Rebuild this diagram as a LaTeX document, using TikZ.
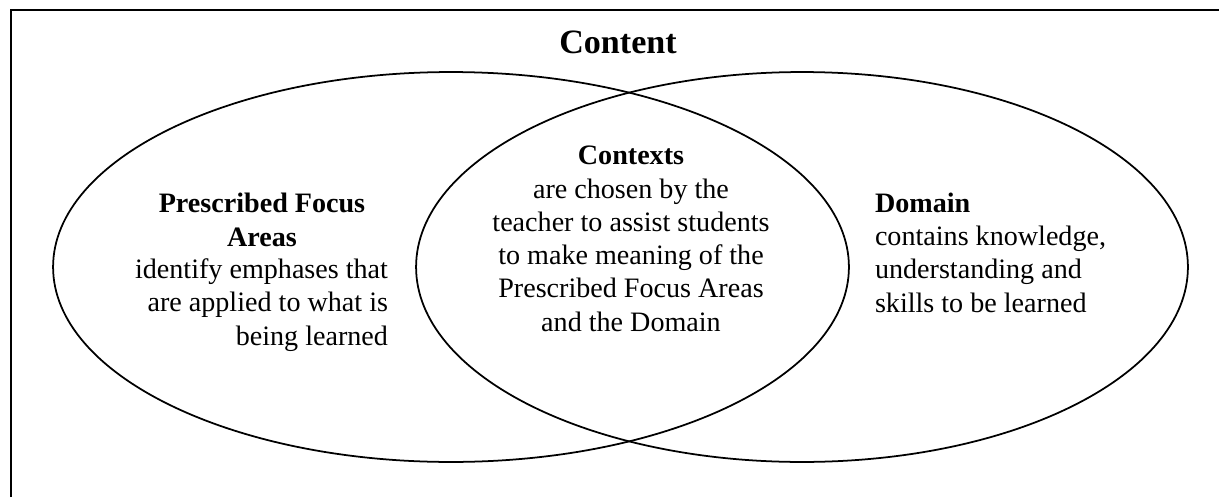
\documentclass[tikz,border=0pt]{standalone}
\usepackage{fontspec}
\setmainfont{Liberation Serif}
\usepackage{tikz}
\usetikzlibrary{positioning}

\begin{document}
\begin{tikzpicture}[x=0.02cm,y=-0.02cm,semithick,
                    every node/.style={inner sep=0pt,outer sep=0pt}]
  \tikzstyle{blurb}=[font=\fontsize{16}{18.9}\selectfont]
  \tikzstyle{ring}=[line width=1pt,draw=black]

  \useasboundingbox (0,0) rectangle (1219,497);
  \draw[line width=1.3pt] (11,497) -- (11,10) -- (1219,10);

  \draw[ring] (451,267) ellipse [x radius=7.96cm, y radius=3.9cm];
  \draw[ring] (802,267) ellipse [x radius=7.72cm, y radius=3.9cm];

  % multi-line nodes sit on the baseline of their last line
  \node[anchor=base,font=\fontsize{19.4}{22}\selectfont\bfseries] (content) at (618,53) {Content};

  \node[blurb,align=center,anchor=base] (pfa) at (262,246)
       {\textbf{Prescribed Focus}\\\textbf{Areas}};
  \node[blurb,align=right,anchor=base east] (pfatext) at (388,345)
       {identify emphases that\\are applied to what is\\being learned};

  \node[blurb,align=center,anchor=base] (ctx) at (631,331)
       {\textbf{Contexts}\\are chosen by the\\teacher to assist students\\to make meaning of the\\Prescribed Focus Areas\\and the Domain};

  \node[blurb,align=left,anchor=base west] (dom) at (875,312)
       {\textbf{Domain}\\contains knowledge,\\understanding and\\skills to be learned};
\end{tikzpicture}
\end{document}
